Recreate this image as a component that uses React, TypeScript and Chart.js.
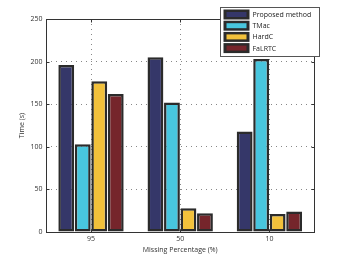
import React, { useEffect, useRef } from "react";
import { Chart, registerables } from "chart.js";

Chart.register(...registerables);

const categories = ["95", "50", "10"];
const seriesNames = ["Proposed method", "TMac", "HardC", "FaLRTC"];
const proposed = [196, 205, 118];
const tmac = [103, 152, 203];
const hardc = [177, 28, 21];
const falrtc = [162, 22, 24];
const colors = ["#353769", "#48c6de", "#f2c13b", "#75252b"];
const yTicks = [0, 50, 100, 150, 200, 250];

const FONT = "'Open Sans', 'DejaVu Sans', sans-serif";
const EDGE = "#2b2b2b";

const framePlugin = {
  id: "frame",
  afterDraw(chart: any) {
    const { ctx, chartArea } = chart;
    ctx.save();
    ctx.strokeStyle = "#333";
    ctx.lineWidth = 1;
    const l = Math.round(chartArea.left) + 0.5;
    const t = Math.round(chartArea.top) + 0.5;
    const r = Math.round(chartArea.right) + 0.5;
    const b = Math.round(chartArea.bottom) + 0.5;
    ctx.strokeRect(l, t, r - l, b - t);
    // inward ticks
    ctx.beginPath();
    const ys = chart.scales.y;
    yTicks.forEach((v) => {
      const y = Math.round(ys.getPixelForValue(v)) + 0.5;
      ctx.moveTo(l, y); ctx.lineTo(l + 3, y);
      ctx.moveTo(r, y); ctx.lineTo(r - 3, y);
    });
    const xs = chart.scales.x;
    categories.forEach((_, i) => {
      const x = Math.round(xs.getPixelForValue(i)) + 0.5;
      ctx.moveTo(x, b); ctx.lineTo(x, b - 3);
      ctx.moveTo(x, t); ctx.lineTo(x, t + 3);
    });
    ctx.stroke();
    // legend box
    const lx = 220.5, ly = 7.5, lw = 99, lh = 49;
    ctx.fillStyle = "#fff";
    ctx.fillRect(lx, ly, lw, lh);
    ctx.strokeStyle = "#555";
    ctx.strokeRect(lx, ly, lw, lh);
    ctx.font = `7px ${FONT}`;
    ctx.textBaseline = "middle";
    seriesNames.forEach((name, i) => {
      const cy = ly + 7 + i * 11.2;
      ctx.fillStyle = EDGE;
      ctx.fillRect(lx + 3, cy - 5, 26, 10);
      ctx.fillStyle = colors[i];
      ctx.fillRect(lx + 6, cy - 2.5, 20, 5);
      ctx.fillStyle = "#222";
      ctx.fillText(name, lx + 32, cy + 0.5);
    });
    ctx.restore();
  },
};

export default function App() {
  const ref = useRef<HTMLCanvasElement>(null);
  useEffect(() => {
    if (!ref.current) return;
    const data = [proposed, tmac, hardc, falrtc];
    const chart = new Chart(ref.current, {
      type: "bar",
      data: {
        labels: categories,
        datasets: seriesNames.map((n, i) => ({
          label: n,
          data: data[i],
          backgroundColor: colors[i],
          borderColor: EDGE,
          borderWidth: 2.5,
          borderSkipped: false,
          categoryPercentage: 0.74,
          barPercentage: 0.96,
        })),
      },
      options: {
        animation: false,
        responsive: false,
        maintainAspectRatio: false,
        layout: { padding: { top: 19, right: 32, left: 18, bottom: 7 } },
        plugins: {
          legend: { display: false },
          tooltip: { enabled: false },
        },
        scales: {
          x: {
            grid: {
              offset: false,
              color: "#888",
              lineWidth: 1,
              drawTicks: false,
            },
            border: { display: false, dash: [1, 4] },
            ticks: { color: "#333", font: { family: FONT, size: 7, lineHeight: 1 }, padding: 3 },
            title: {
              display: true,
              text: "Missing Percentage (%)",
              color: "#333",
              font: { family: FONT, size: 7, lineHeight: 1 },
              padding: { top: 1, bottom: 0 },
            },
          },
          y: {
            min: 0,
            max: 250,
            afterBuildTicks: (axis: any) => {
              axis.ticks = yTicks.map((v) => ({ value: v }));
            },
            grid: { color: "#888", drawTicks: false },
            border: { display: false, dash: [1, 4] },
            ticks: { color: "#333", font: { family: FONT, size: 7 }, padding: 4 },
            title: {
              display: true,
              text: "Time (s)",
              color: "#333",
              font: { family: FONT, size: 7 },
              padding: { top: 0, bottom: 0 },
            },
          },
        },
      },
      plugins: [framePlugin],
    });
    return () => chart.destroy();
  }, []);
  return (
    <div style={{ position: "fixed", left: 0, top: 0, width: 346, height: 260, background: "#fff" }}>
      <canvas ref={ref} width={346} height={260} style={{ width: 346, height: 260 }} />
    </div>
  );
}
